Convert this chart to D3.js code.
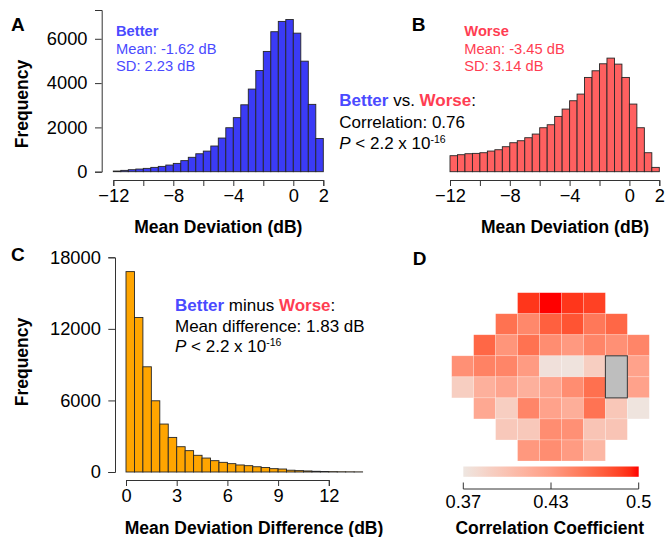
<!DOCTYPE html>
<html><head><meta charset="utf-8">
<script src="https://cdn.jsdelivr.net/npm/d3@7"></script>
<style>
body{margin:0;background:#fff}
text{font-family:"Liberation Sans",Arial,Helvetica,sans-serif}
</style>
</head><body>
<svg id="chart" width="665" height="537"></svg>
<script>
// ---------- DATA ----------
const mdBinStarts = d3.range(-12, 2, 0.5);          // 0.5 dB bins, -12 .. 2
const betterCounts = [30, 60, 90, 120, 150, 195, 240, 300, 375, 500, 650, 810, 930, 1160,
  1520, 1985, 2440, 3020, 3730, 4570, 5430, 6320, 6785, 6870, 6255, 4990, 3040, 1500];
const worseCounts = [722, 767, 812, 827, 857, 932, 992, 1128, 1308, 1398, 1534, 1699, 1985, 2120,
  2496, 2827, 3203, 3504, 4256, 4556, 4872, 5128, 4857, 4256, 3053, 1985, 857, 195];
const diffBinStarts = d3.range(0, 14, 0.5);
const diffCounts = [16800, 12950, 8820, 5970, 4020, 2900, 2120, 1790, 1400, 1170, 950, 810, 700, 590,
  530, 440, 380, 280, 250, 150, 115, 88, 60, 40, 30, 20, 15, 10];
const mdTicks = [-12, -10, -8, -6, -4, -2, 0, 2];
const mdTickLabels = ["\u221212", "", "\u22128", "", "\u22124", "", "0", "2"];
const freqTicksA = [0, 2000, 4000, 6000];
const diffTicks = [0, 3, 6, 9, 12];
const freqTicksC = [0, 6000, 12000, 18000];
// visual field (24-2) correlation map; null = not tested, "BS" = blind spot
const corrGrid = [
  [null, null, null, 0.490, 0.500, 0.490, 0.486, null, null],
  [null, null, 0.462, 0.448, 0.472, 0.478, 0.458, 0.468, null],
  [null, 0.468, 0.440, 0.462, 0.445, 0.437, 0.450, 0.443, 0.450],
  [0.443, 0.452, 0.450, 0.436, 0.375, 0.373, 0.392, "BS", 0.430],
  [0.392, 0.418, 0.428, 0.418, 0.428, 0.445, 0.463, "BS", 0.430],
  [null, 0.425, 0.392, 0.450, 0.430, 0.420, 0.461, 0.398, 0.372],
  [null, null, 0.397, 0.397, 0.445, 0.443, 0.400, 0.400, null],
  [null, null, null, 0.438, 0.445, 0.436, 0.412, null, null]
];
const legendTicks = [0.37, 0.435, 0.5];
const legendTickLabels = ["0.37", "0.43", "0.5"];

// ---------- STYLE ----------
const BLUE_FILL = "#3b3bf6", RED_FILL = "#ff6060", ORANGE_FILL = "#ffa500";
const BLUE_TXT = "#4a4aff", RED_TXT = "#ff3d52";
const AXIS_COL = "#333";
const TICK_FS = 18.3;
const svg = d3.select("#chart");
svg.append("rect").attr("width", 665).attr("height", 537).attr("fill", "#fff");

function styleAxis(g) {
  g.select(".domain").attr("stroke", AXIS_COL);
  g.selectAll(".tick line").attr("stroke", AXIS_COL);
  g.selectAll(".tick text").attr("fill", "#000").attr("font-size", TICK_FS)
    .attr("font-family", '"Liberation Sans",Arial,sans-serif');
}

function hist(x, y, starts, counts, width, fill) {
  svg.append("g").selectAll("rect").data(counts).join("rect")
    .attr("x", (d, i) => x(starts[i]))
    .attr("y", d => y(d))
    .attr("width", (d, i) => x(starts[i] + width) - x(starts[i]))
    .attr("height", d => y(0) - y(d))
    .attr("fill", fill).attr("stroke", "#262626").attr("stroke-width", 0.9);
}

function label(txt, x, y, opts = {}) {
  return svg.append("text").attr("x", x).attr("y", y).text(txt)
    .attr("font-size", opts.size || 17.5)
    .attr("font-weight", opts.bold ? "bold" : null)
    .attr("fill", opts.fill || "#000")
    .attr("text-anchor", opts.anchor || "start");
}

// ---------- PANEL A ----------
const xA = d3.scaleLinear().domain([-12, 2]).range([113.3, 323.3]);
const yA = d3.scaleLinear().domain([0, 7300]).range([171.7, 10]);
hist(xA, yA, mdBinStarts, betterCounts, 0.5, BLUE_FILL);
svg.append("g").attr("transform", "translate(0,180)")
  .call(d3.axisBottom(xA).tickValues(mdTicks).tickFormat((d, i) => mdTickLabels[i])
    .tickSizeOuter(0).tickSize(6).tickPadding(3.5)).call(styleAxis);
svg.append("g").attr("transform", "translate(101.7,0)")
  .call(d3.axisLeft(yA).tickValues(freqTicksA).tickFormat(d3.format("d"))
    .tickSizeOuter(0).tickSize(6.7).tickPadding(7.5)).call(styleAxis);
label("A", 11, 31, {bold: true, size: 19});
label("Mean Deviation (dB)", 218.3, 233, {bold: true, anchor: "middle"});
label("Frequency", 0, 0, {bold: true, anchor: "middle"})
  .attr("transform", "translate(27.6,104) rotate(-90)");
label("Better", 116, 35.5, {bold: true, size: 14.7, fill: BLUE_TXT});
label("Mean: -1.62 dB", 116, 53.5, {size: 14.7, fill: BLUE_TXT});
label("SD: 2.23 dB", 116, 71.2, {size: 14.7, fill: BLUE_TXT});

// ---------- PANEL B ----------
const xB = d3.scaleLinear().domain([-12, 2]).range([450, 659.3]);
hist(xB, yA, mdBinStarts, worseCounts, 0.5, RED_FILL);
svg.append("g").attr("transform", "translate(0,180)")
  .call(d3.axisBottom(xB).tickValues(mdTicks).tickFormat((d, i) => mdTickLabels[i])
    .tickSizeOuter(0).tickSize(6).tickPadding(3.5)).call(styleAxis);
label("B", 411.7, 31, {bold: true, size: 19});
label("Mean Deviation (dB)", 565, 233, {bold: true, anchor: "middle"});
label("Worse", 464.3, 35.5, {bold: true, size: 14.7, fill: RED_TXT});
label("Mean: -3.45 dB", 464.3, 53.5, {size: 14.7, fill: RED_TXT});
label("SD: 3.14 dB", 464.3, 71.2, {size: 14.7, fill: RED_TXT});

// comparison annotation
const t1 = label("", 339.3, 106, {size: 17});
t1.append("tspan").text("Better").attr("font-weight", "bold").attr("fill", BLUE_TXT);
t1.append("tspan").text(" vs. ");
t1.append("tspan").text("Worse").attr("font-weight", "bold").attr("fill", RED_TXT);
t1.append("tspan").text(":");
label("Correlation: 0.76", 339.3, 127.7, {size: 17});
function pText(x, y) {
  const t = label("", x, y, {size: 17});
  t.append("tspan").text("P").attr("font-style", "italic");
  t.append("tspan").text(" < 2.2 x 10");
  t.append("tspan").text("-16").attr("font-size", 10.5).attr("dy", -6.5);
}
pText(339.3, 149);

// ---------- PANEL C ----------
const xC = d3.scaleLinear().domain([0, 12]).range([126, 328.8]);
const yC = d3.scaleLinear().domain([0, 18000]).range([472, 257.3]);
hist(xC, yC, diffBinStarts, diffCounts, 0.5, ORANGE_FILL);
svg.append("g").attr("transform", "translate(0,480)")
  .call(d3.axisBottom(xC).tickValues(diffTicks).tickFormat(d3.format("d"))
    .tickSizeOuter(0).tickSize(6).tickPadding(3.5)).call(styleAxis);
svg.append("g").attr("transform", "translate(115,0)")
  .call(d3.axisLeft(yC).tickValues(freqTicksC).tickFormat(d3.format("d"))
    .tickSizeOuter(0).tickSize(6.7).tickPadding(7.5)).call(styleAxis);
label("C", 11, 261, {bold: true, size: 19});
label("Mean Deviation Difference (dB)", 254, 534, {bold: true, anchor: "middle"});
label("Frequency", 0, 0, {bold: true, anchor: "middle"})
  .attr("transform", "translate(27.6,362) rotate(-90)");
const t2 = label("", 175, 310.7, {size: 17});
t2.append("tspan").text("Better").attr("font-weight", "bold").attr("fill", BLUE_TXT);
t2.append("tspan").text(" minus ");
t2.append("tspan").text("Worse").attr("font-weight", "bold").attr("fill", RED_TXT);
t2.append("tspan").text(":");
label("Mean difference: 1.83 dB", 175, 332, {size: 17});
pText(175, 352);

// ---------- PANEL D ----------
label("D", 412.7, 265, {bold: true, size: 19});
const color = d3.scaleLinear().domain([0.37, 0.435, 0.5])
  .range(["#eee6e1", "#ff9c84", "#ff0000"]).interpolate(d3.interpolateLab).clamp(true);
const colX = d3.scaleBand().domain(d3.range(9)).range([451.7, 649.3]);
const rowY = d3.scaleBand().domain(d3.range(8)).range([292.7, 461]);
const cells = [];
corrGrid.forEach((row, r) => row.forEach((v, c) => {
  if (v !== null && v !== "BS") cells.push({r, c, v});
}));
svg.append("g").selectAll("rect").data(cells).join("rect")
  .attr("x", d => colX(d.c)).attr("y", d => rowY(d.r))
  .attr("width", colX.bandwidth()).attr("height", rowY.bandwidth())
  .attr("fill", d => color(d.v))
  .attr("stroke", "#fff").attr("stroke-opacity", 0.35).attr("stroke-width", 0.6);
// blind spot
const bs = [];
corrGrid.forEach((row, r) => row.forEach((v, c) => { if (v === "BS") bs.push({r, c}); }));
const bsC = bs[0].c, bsR0 = d3.min(bs, d => d.r), bsR1 = d3.max(bs, d => d.r);
svg.append("rect")
  .attr("x", colX(bsC)).attr("y", rowY(bsR0))
  .attr("width", colX.bandwidth()).attr("height", rowY(bsR1) + rowY.bandwidth() - rowY(bsR0))
  .attr("fill", "#bebebe").attr("stroke", "#333").attr("stroke-width", 1);

// legend
const lx = d3.scaleLinear().domain([0.37, 0.5]).range([463.3, 638.7]);
const grad = svg.append("defs").append("linearGradient").attr("id", "lg")
  .attr("x1", "0%").attr("x2", "100%");
d3.range(0, 1.0001, 0.05).forEach(f => {
  grad.append("stop").attr("offset", (f * 100) + "%").attr("stop-color", color(0.37 + f * 0.13));
});
svg.append("rect").attr("x", lx(0.37)).attr("y", 466.5)
  .attr("width", lx(0.5) - lx(0.37)).attr("height", 10.3).attr("fill", "url(#lg)");
const lAxis = svg.append("g").attr("transform", "translate(0,489)");
lAxis.append("line").attr("x1", lx(0.37)).attr("x2", lx(0.5)).attr("stroke", AXIS_COL);
lAxis.selectAll("line.t").data(legendTicks).join("line").attr("class", "t")
  .attr("x1", d => lx(d)).attr("x2", d => lx(d)).attr("y1", 0).attr("y2", -6.5)
  .attr("stroke", AXIS_COL);
lAxis.selectAll("text").data(legendTicks).join("text")
  .attr("x", d => lx(d)).attr("y", 19.3).attr("text-anchor", "middle")
  .attr("font-size", TICK_FS).text((d, i) => legendTickLabels[i]);
label("Correlation Coefficient", 549.7, 534, {bold: true, anchor: "middle"});
</script>
</body></html>
